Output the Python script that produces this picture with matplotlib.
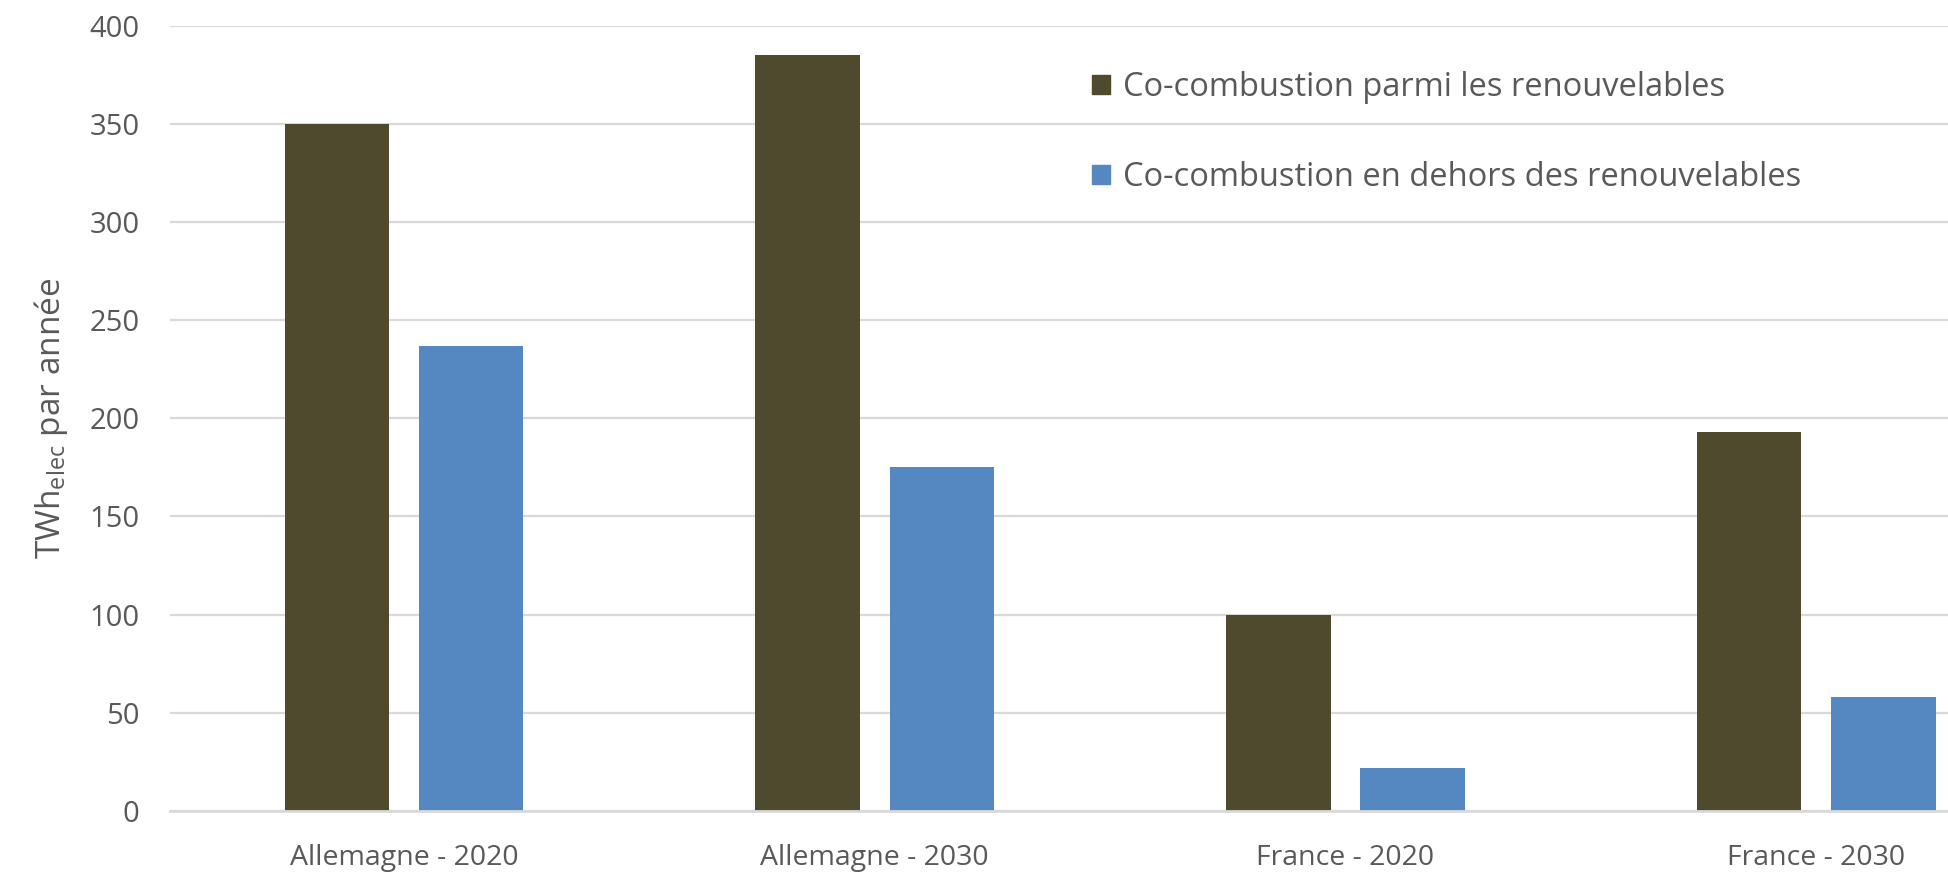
import numpy as np
import matplotlib
matplotlib.use("Agg")
import matplotlib.pyplot as plt
from matplotlib.patches import Patch

categories = ["Allemagne - 2020", "Allemagne - 2030", "France - 2020", "France - 2030"]
parmi = [350, 385, 100, 193]
dehors = [237, 175, 22, 58]
labels = ["Co-combustion parmi les renouvelables",
          "Co-combustion en dehors des renouvelables"]
colors = ["#4F4A2E", "#5588C1"]
yticks = [0, 50, 100, 150, 200, 250, 300, 350, 400]

plt.rcParams['font.family'] = ['Open Sans', 'DejaVu Sans']
text_c = "#595959"

fig = plt.figure(figsize=(19.48, 8.74), dpi=100)
ax = fig.add_axes([0.0873, 0.0724, 0.9127, 0.8978])

x = np.arange(len(categories))
w = 0.222
off = 0.1425
ax.bar(x - off, parmi, width=w, color=colors[0], zorder=3)
ax.bar(x + off, dehors, width=w, color=colors[1], zorder=3)

ax.set_xlim(-0.497, 3.28)
ax.set_ylim(0, 400)
ax.set_yticks(yticks)
ax.set_xticks(x)
ax.set_xticklabels(categories, fontsize=20.5)
ax.tick_params(axis='y', labelsize=21, colors=text_c, length=0, pad=22)
ax.tick_params(axis='x', colors=text_c, length=0, pad=24)
ax.grid(axis='y', color="#d9d9d9", lw=1.6, zorder=0)
for s in ["top", "right", "left"]:
    ax.spines[s].set_visible(False)
ax.spines["bottom"].set_color("#d9d9d9")
ax.spines["bottom"].set_linewidth(2)
ax.spines["bottom"].set_zorder(4)

ax.set_ylabel(r"TWh$_{\mathregular{elec}}$ par année", fontsize=24, color=text_c, labelpad=14)

handles = [Patch(color=c) for c in colors]
ax.legend(handles, labels, loc="upper left", bbox_to_anchor=(0.5456, 0.952),
          bbox_transform=fig.transFigure, frameon=False, fontsize=23.5,
          handlelength=0.53, handleheight=0.53, handletextpad=0.4,
          labelspacing=1.73, labelcolor=text_c)

fig.savefig("out.png", dpi=100)
